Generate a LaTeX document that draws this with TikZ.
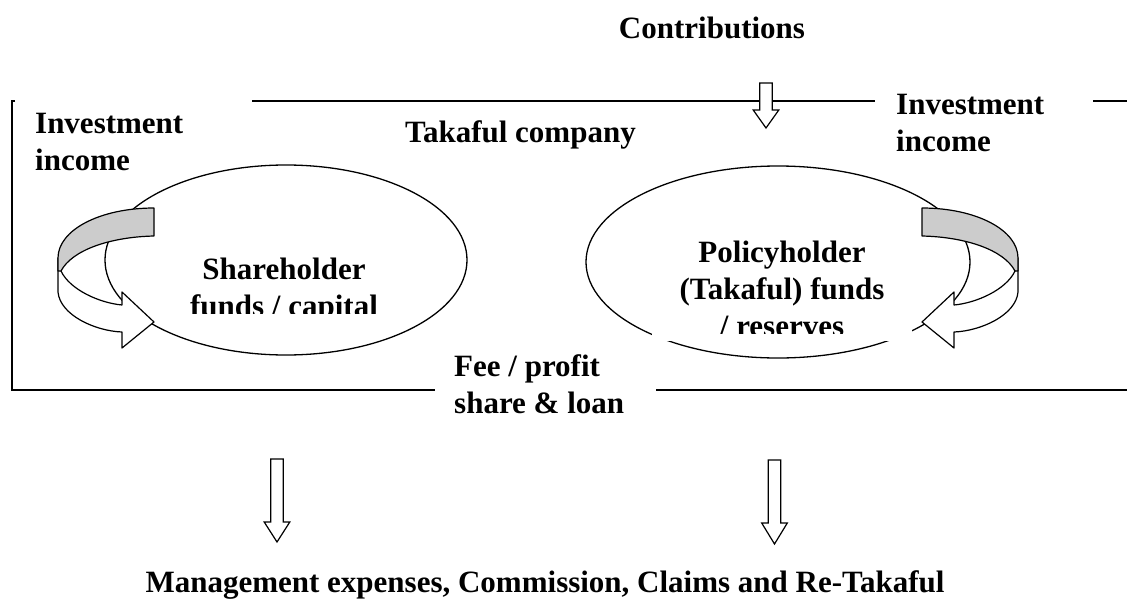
\documentclass[tikz,border=0pt]{standalone}
\usepackage{fontspec}
\setmainfont{Liberation Serif}
\usetikzlibrary{shapes.geometric}
\tikzset{
  lbl/.style={font=\bfseries\fontsize{31}{37}\selectfont, inner sep=0pt, align=left},
  ctrlbl/.style={lbl, align=center},
  frame/.style={draw=black, line width=1.8pt},
  fund/.style={draw=black, ellipse, line width=1.3pt, inner sep=0pt},
  textbox/.style={fill=white, draw=none},
  band/.style={draw=black, line width=1.2pt, line join=round},
  blockarr/.style={draw=black, fill=white, line width=1.2pt},
  pics/downarr/.style args={#1/#2}{code={
    \path[blockarr] (-6.3,0) -- (6.3,0) -- (6.3,#2) -- (12.8,#2) -- (0,#1)
      -- (-12.8,#2) -- (-6.3,#2) -- cycle;}}
}
% curved investment-income arrow, left-hand version
\newcommand\loopband{%
  \path[band, fill=white] (58,258) -- (58,292) .. controls (60,315) and (95,331) .. (122,332)
    -- (122,348) -- (154,322) -- (122,292) -- (122,305)
    .. controls (100,303) and (70,290) .. (61,271) -- cycle;
  \path[band, fill=black!20] (154,208) .. controls (100,208) and (58,230) .. (58,258)
    -- (58,271) -- (61,271) .. controls (72,250) and (110,237) .. (154,236) -- cycle;
}
\begin{document}
\begin{tikzpicture}[x=1pt, y=-1pt]
  \useasboundingbox (0,0) rectangle (1129,610);

  % company frame
  \draw[frame] (15,101) -- (12,101) -- (12,390) -- (435,390);
  \draw[frame] (656,390) -- (1127,390);
  \draw[frame] (252,101) -- (875,101);
  \draw[frame] (1093,101) -- (1127,101);

  % the two funds
  \node[fund, minimum width=362pt, minimum height=190pt] (shfund) at (286,260) {};
  \node[fund, minimum width=384pt, minimum height=192pt] (phfund) at (778,262) {};

  \fill[textbox] (652,225) rectangle (912,341);
  \begin{scope}
    \clip (154,235) rectangle (414,313);
    \node[ctrlbl, anchor=base] (shtext) at (284,316) {Shareholder\\funds / capital};
  \end{scope}
  \begin{scope}
    \clip (652,225) rectangle (912,333);
    \node[ctrlbl, anchor=base] (phtext) at (782,336) {Policyholder\\(Takaful) funds\\/ reserves};
  \end{scope}

  % investment income loops
  \loopband
  \begin{scope}[shift={(1076,0)}, xscale=-1]
    \loopband
  \end{scope}

  % flows in and out
  \pic at (766,83) {downarr=45/27};
  \pic at (277,459) {downarr=83/63};
  \pic at (774.5,460) {downarr=84/63};

  % labels
  \node[ctrlbl, anchor=base] (contrib) at (712,38) {Contributions};
  \node[lbl, anchor=base west] (company) at (405,142) {Takaful company};
  \node[lbl, anchor=base west] (invleft) at (35,170) {Investment\\income};
  \node[lbl, anchor=base west] (invright) at (896,151) {Investment\\income};
  \node[lbl, anchor=base west] (fee) at (454,413) {Fee / profit\\share \& loan};
  \node[ctrlbl, anchor=base] (outgo) at (545,592) {Management expenses, Commission, Claims and Re-Takaful};
\end{tikzpicture}
\end{document}
